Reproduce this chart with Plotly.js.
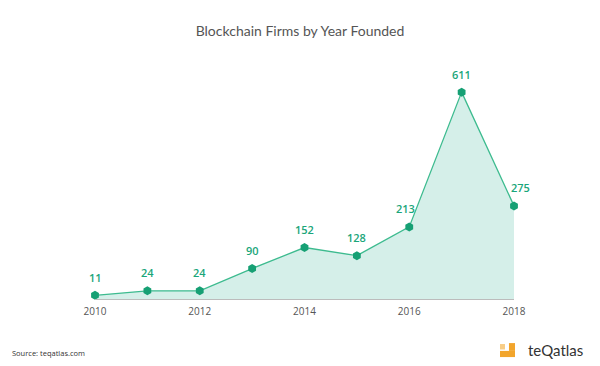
<!DOCTYPE html>
<html><head><meta charset="utf-8">
<script src="https://cdn.plot.ly/plotly-3.0.1.min.js"></script>
<style>html,body{margin:0;padding:0;background:#fff}#chart{width:600px;height:366px}</style>
</head><body><div id="chart"></div>
<script>
const years = [2010, 2011, 2012, 2013, 2014, 2015, 2016, 2017, 2018];
const firms = [11, 24, 24, 90, 152, 128, 213, 611, 275];
const tickYears = [2010, 2012, 2014, 2016, 2018];

const labelShift = {2016: -4, 2018: 6};

const trace = {
  x: years, y: firms, type: 'scatter', mode: 'lines+markers',
  fill: 'tozeroy', fillcolor: '#d5efe9',
  line: {color: '#3dbb8f', width: 1.3},
  marker: {symbol: 'hexagon', size: 9, color: '#16a074'},
  cliponaxis: false, hoverinfo: 'x+y'
};
const valueLabels = years.map((yr, i) => ({
  x: yr, y: firms[i], xref: 'x', yref: 'y', yshift: 18, xshift: labelShift[yr] || 0,
  yanchor: 'middle', xanchor: 'center',
  showarrow: false, text: String(firms[i]), bgcolor: 'rgba(0,0,0,0)',
  font: {family: 'Open Sans, sans-serif', size: 11, color: '#1aa67a', weight: 600}
}));
const layout = {
  width: 600, height: 366,
  margin: {l: 95, r: 86, t: 62, b: 67},
  paper_bgcolor: '#fff', plot_bgcolor: '#fff',
  showlegend: false,
  title: {text: 'Blockchain Firms by Year Founded', x: 0.5, xanchor: 'center', y: 0.915, yanchor: 'middle',
    font: {family: 'Lato, sans-serif', size: 14, color: '#555'}},
  xaxis: {range: [2010, 2018], tickvals: tickYears, ticktext: tickYears.map(String),
    showgrid: false, zeroline: false, showline: true, linecolor: '#bcbcbc', linewidth: 1,
    ticks: '', ticklen: 0, ticklabelstandoff: 3,
    tickfont: {family: 'Open Sans, sans-serif', size: 10, color: '#555'}},
  yaxis: {range: [0, 700], visible: false, showgrid: false, zeroline: false},
  annotations: valueLabels.concat([
    {xref: 'paper', yref: 'paper', x: -0.203, y: -0.228, xanchor: 'left', yanchor: 'middle', showarrow: false,
      text: 'Source: teqatlas.com', font: {family: 'Open Sans, sans-serif', size: 7.5, color: '#333'}},
    {xref: 'paper', yref: 'paper', x: 1.028, y: -0.215, xanchor: 'left', yanchor: 'middle', showarrow: false,
      text: 'teQatlas', font: {family: 'Lato, sans-serif', size: 15, color: '#333'}}
  ]),
  shapes: [
    {type: 'rect', xref: 'paper', yref: 'paper', x0: 0.9666, x1: 1.0024, y0: -0.245, y1: -0.219, fillcolor: '#f2a52c', line: {width: 0}},
    {type: 'rect', xref: 'paper', yref: 'paper', x0: 0.988, x1: 1.0024, y0: -0.219, y1: -0.186, fillcolor: '#f2a52c', line: {width: 0}},
    {type: 'rect', xref: 'paper', yref: 'paper', x0: 0.9666, x1: 0.9785, y0: -0.213, y1: -0.19, fillcolor: '#f8cd86', line: {width: 0}}
  ]
};
Plotly.newPlot('chart', [trace], layout, {displayModeBar: false, staticPlot: true});
</script></body></html>
